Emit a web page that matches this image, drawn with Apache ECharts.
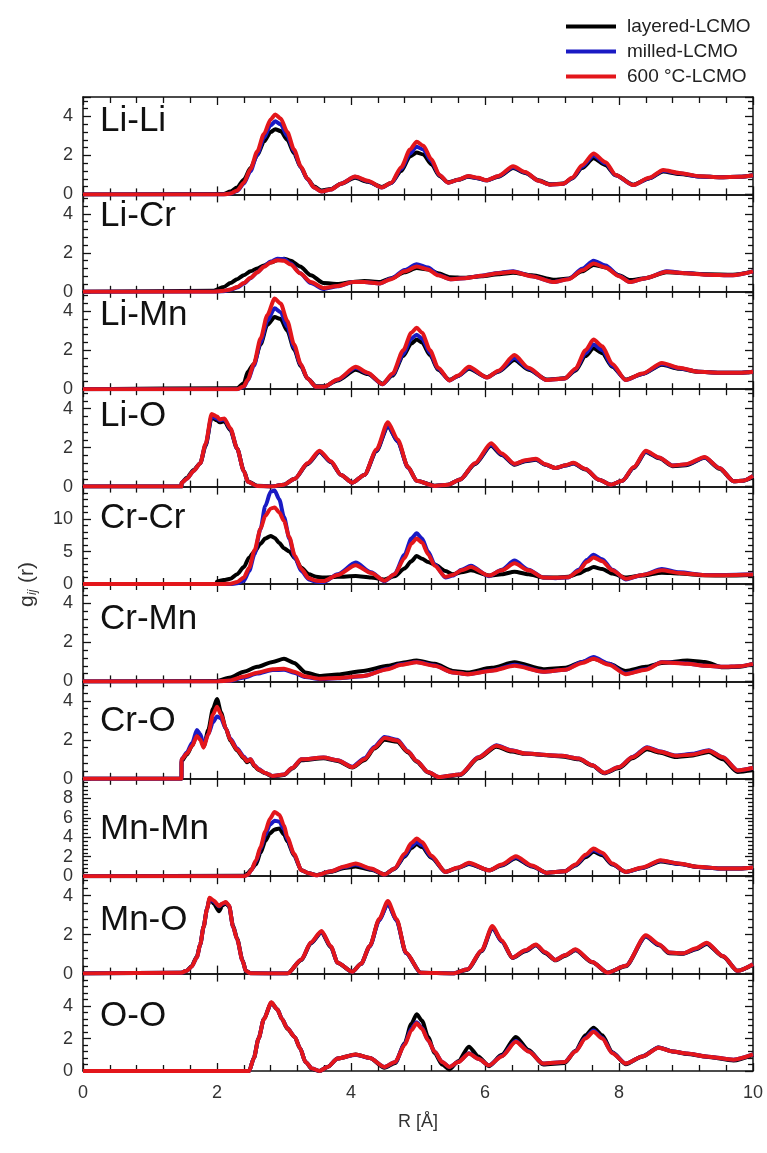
<!DOCTYPE html>
<html>
<head>
<meta charset="utf-8">
<script src="https://cdn.jsdelivr.net/npm/echarts@6/dist/echarts.min.js"></script>
<style>
html,body{margin:0;padding:0;background:#fff;}
#chart{width:767px;height:1153px;}
</style>
</head>
<body>
<div id="chart"></div>
<script>
// ---------------- DATA ----------------
const SERIES_NAMES = ['layered-LCMO', 'milled-LCMO', '600 °C-LCMO'];
const PANEL_NAMES = ['Li-Li', 'Li-Cr', 'Li-Mn', 'Li-O', 'Cr-Cr', 'Cr-Mn', 'Cr-O', 'Mn-Mn', 'Mn-O', 'O-O'];
const X_TICKS = [0, 2, 4, 6, 8, 10];

// Li-Li
const R_LiLi = [0, 2.1, 2.2, 2.3, 2.4, 2.5, 2.6, 2.7, 2.8, 2.87, 2.95, 3.05, 3.15, 3.25, 3.35, 3.45, 3.56, 3.7, 3.85, 4.06, 4.25, 4.46, 4.6, 4.75, 4.88, 4.98, 5.08, 5.2, 5.32, 5.45, 5.6, 5.75, 5.9, 6.02, 6.2, 6.42, 6.6, 6.8, 6.97, 7.17, 7.3, 7.45, 7.62, 7.8, 7.95, 8.21, 8.45, 8.66, 8.9, 9.21, 9.5, 9.8, 10];
const LiLi_layered = [0, 0.02, 0.15, 0.35, 0.75, 1.35, 2.0, 2.7, 3.2, 3.35, 3.25, 2.8, 2.1, 1.4, 0.8, 0.4, 0.2, 0.28, 0.55, 0.85, 0.65, 0.38, 0.58, 1.2, 1.95, 2.15, 2.05, 1.55, 0.95, 0.62, 0.75, 0.9, 0.82, 0.72, 0.9, 1.35, 1.1, 0.72, 0.52, 0.56, 0.82, 1.35, 1.85, 1.5, 0.98, 0.5, 0.82, 1.18, 1.05, 0.92, 0.88, 0.9, 0.98];
const LiLi_milled = [0, 0, 0.04, 0.18, 0.55, 1.2, 2.05, 2.9, 3.55, 3.75, 3.6, 3.0, 2.2, 1.4, 0.78, 0.35, 0.15, 0.25, 0.55, 0.9, 0.68, 0.35, 0.58, 1.3, 2.1, 2.45, 2.3, 1.7, 0.98, 0.6, 0.75, 0.93, 0.83, 0.72, 0.93, 1.4, 1.12, 0.7, 0.5, 0.55, 0.83, 1.42, 2.0, 1.58, 0.98, 0.48, 0.83, 1.22, 1.08, 0.92, 0.88, 0.9, 0.98];
const LiLi_600 = [0, 0, 0.05, 0.2, 0.6, 1.3, 2.2, 3.1, 3.85, 4.1, 3.9, 3.2, 2.3, 1.45, 0.8, 0.35, 0.15, 0.25, 0.55, 0.92, 0.7, 0.35, 0.6, 1.4, 2.3, 2.7, 2.5, 1.8, 1.0, 0.6, 0.75, 0.95, 0.85, 0.72, 0.95, 1.45, 1.15, 0.7, 0.5, 0.55, 0.85, 1.5, 2.1, 1.65, 1.0, 0.48, 0.85, 1.25, 1.1, 0.93, 0.88, 0.9, 0.98];

// Li-Cr
const R_LiCr = [0, 1.95, 2.1, 2.2, 2.3, 2.4, 2.5, 2.6, 2.7, 2.8, 2.9, 3.0, 3.1, 3.24, 3.4, 3.59, 3.8, 4.03, 4.2, 4.43, 4.6, 4.8, 4.98, 5.15, 5.3, 5.48, 5.7, 5.95, 6.2, 6.42, 6.7, 7.02, 7.25, 7.45, 7.62, 7.8, 8.0, 8.16, 8.4, 8.71, 9.0, 9.3, 9.7, 10];
const LiCr_layered = [0, 0.05, 0.25, 0.45, 0.65, 0.85, 1.05, 1.2, 1.35, 1.5, 1.62, 1.7, 1.6, 1.3, 0.85, 0.45, 0.4, 0.5, 0.55, 0.5, 0.7, 1.0, 1.22, 1.15, 0.95, 0.75, 0.72, 0.8, 0.9, 0.98, 0.85, 0.62, 0.68, 1.05, 1.38, 1.25, 0.85, 0.6, 0.7, 1.0, 0.95, 0.9, 0.88, 1.05];
const LiCr_milled = [0, 0, 0.03, 0.1, 0.22, 0.42, 0.7, 1.0, 1.3, 1.55, 1.7, 1.68, 1.45, 0.95, 0.45, 0.15, 0.28, 0.5, 0.5, 0.43, 0.68, 1.12, 1.42, 1.25, 0.88, 0.65, 0.7, 0.83, 0.97, 1.06, 0.8, 0.5, 0.66, 1.18, 1.6, 1.35, 0.82, 0.5, 0.7, 1.05, 0.96, 0.88, 0.85, 1.05];
const LiCr_600 = [0, 0, 0.05, 0.12, 0.25, 0.45, 0.72, 1.0, 1.28, 1.5, 1.62, 1.6, 1.4, 0.95, 0.5, 0.2, 0.3, 0.5, 0.5, 0.43, 0.65, 1.05, 1.3, 1.15, 0.85, 0.65, 0.7, 0.82, 0.95, 1.03, 0.8, 0.5, 0.65, 1.1, 1.45, 1.25, 0.8, 0.5, 0.7, 1.03, 0.95, 0.88, 0.85, 1.05];

// Li-Mn
const R_LiMn = [0, 2.3, 2.4, 2.46, 2.55, 2.65, 2.75, 2.86, 2.95, 3.05, 3.15, 3.25, 3.35, 3.48, 3.6, 3.8, 4.07, 4.25, 4.47, 4.62, 4.78, 4.9, 4.98, 5.06, 5.18, 5.3, 5.47, 5.6, 5.76, 6.03, 6.2, 6.44, 6.65, 6.92, 7.19, 7.35, 7.5, 7.62, 7.75, 7.9, 8.1, 8.35, 8.64, 8.9, 9.18, 9.5, 9.8, 10];
const LiMn_layered = [0, 0.05, 0.3, 0.9, 1.3, 2.3, 3.3, 3.7, 3.6, 3.0, 2.05, 1.2, 0.55, 0.15, 0.15, 0.45, 1.0, 0.78, 0.28, 0.7, 1.7, 2.35, 2.55, 2.4, 1.75, 1.0, 0.48, 0.68, 1.05, 0.62, 0.9, 1.5, 1.0, 0.5, 0.56, 0.95, 1.7, 2.1, 1.85, 1.15, 0.5, 0.78, 1.25, 1.05, 0.9, 0.85, 0.85, 0.9];
const LiMn_milled = [0, 0, 0.12, 0.45, 1.2, 2.4, 3.5, 4.15, 3.95, 3.2, 2.15, 1.25, 0.55, 0.12, 0.12, 0.48, 1.1, 0.82, 0.25, 0.75, 1.8, 2.6, 2.8, 2.6, 1.85, 1.05, 0.45, 0.68, 1.1, 0.6, 0.92, 1.6, 1.05, 0.47, 0.55, 1.0, 1.85, 2.3, 2.0, 1.2, 0.47, 0.78, 1.3, 1.08, 0.9, 0.85, 0.85, 0.9];
const LiMn_600 = [0, 0, 0.15, 0.5, 1.3, 2.6, 3.8, 4.65, 4.4, 3.5, 2.3, 1.3, 0.55, 0.12, 0.12, 0.5, 1.15, 0.85, 0.25, 0.8, 2.0, 2.9, 3.15, 2.9, 2.0, 1.1, 0.45, 0.7, 1.15, 0.6, 0.95, 1.75, 1.1, 0.47, 0.55, 1.05, 2.0, 2.55, 2.2, 1.3, 0.47, 0.8, 1.35, 1.1, 0.9, 0.85, 0.85, 0.9];

// Li-O
const R_LiO = [0, 1.47, 1.471, 1.55, 1.65, 1.75, 1.83, 1.92, 2.0, 2.04, 2.11, 2.2, 2.3, 2.4, 2.46, 2.6, 2.8, 3.0, 3.16, 3.35, 3.53, 3.7, 3.85, 4.02, 4.2, 4.38, 4.55, 4.7, 4.85, 4.98, 5.25, 5.45, 5.63, 5.85, 6.09, 6.25, 6.44, 6.6, 6.76, 6.9, 7.05, 7.2, 7.32, 7.5, 7.7, 7.88, 8.05, 8.22, 8.4, 8.6, 8.8, 9.0, 9.28, 9.5, 9.71, 9.85, 10];
const LiO_layered = [0, 0, 0.2, 0.45, 0.85, 1.2, 2.1, 3.55, 3.4, 3.3, 3.35, 2.9, 1.95, 0.82, 0.28, 0.05, 0, 0.1, 0.4, 1.15, 1.78, 1.25, 0.6, 0.2, 0.6, 1.82, 3.1, 2.3, 1.0, 0.3, 0.05, 0.1, 0.37, 1.15, 2.1, 1.62, 1.12, 1.3, 1.38, 1.12, 0.95, 1.08, 1.18, 0.88, 0.35, 0.1, 0.3, 0.95, 1.78, 1.45, 1.05, 1.1, 1.48, 0.92, 0.28, 0.3, 0.5];
const LiO_milled = [0, 0, 0.2, 0.4, 0.8, 1.2, 2.15, 3.6, 3.5, 3.4, 3.45, 2.95, 1.95, 0.8, 0.25, 0.03, 0, 0.1, 0.4, 1.18, 1.8, 1.28, 0.6, 0.2, 0.6, 1.85, 3.15, 2.3, 0.98, 0.3, 0.03, 0.1, 0.37, 1.18, 2.15, 1.65, 1.15, 1.33, 1.4, 1.13, 0.95, 1.08, 1.2, 0.9, 0.35, 0.1, 0.3, 0.98, 1.8, 1.48, 1.08, 1.13, 1.5, 0.95, 0.28, 0.3, 0.55];
const LiO_600 = [0, 0, 0.2, 0.4, 0.8, 1.2, 2.2, 3.73, 3.6, 3.45, 3.5, 3.0, 1.96, 0.8, 0.25, 0.03, 0, 0.1, 0.4, 1.2, 1.84, 1.3, 0.6, 0.2, 0.6, 1.9, 3.3, 2.4, 1.0, 0.3, 0.03, 0.1, 0.37, 1.2, 2.23, 1.7, 1.17, 1.35, 1.43, 1.15, 0.95, 1.1, 1.22, 0.9, 0.35, 0.1, 0.3, 1.0, 1.84, 1.5, 1.08, 1.15, 1.52, 0.95, 0.28, 0.3, 0.55];

// Cr-Cr
const R_CrCr = [0, 1.99, 2.0, 2.1, 2.2, 2.3, 2.4, 2.48, 2.56, 2.65, 2.72, 2.8, 2.86, 2.93, 3.0, 3.08, 3.16, 3.26, 3.37, 3.48, 3.59, 3.8, 4.07, 4.3, 4.5, 4.65, 4.8, 4.9, 4.98, 5.06, 5.15, 5.25, 5.41, 5.52, 5.65, 5.79, 6.06, 6.25, 6.44, 6.65, 6.87, 7.05, 7.24, 7.4, 7.52, 7.62, 7.75, 7.9, 8.1, 8.35, 8.64, 8.9, 9.28, 9.6, 10];
const CrCr_layered = [0, 0, 0.4, 0.6, 0.8, 1.5, 2.6, 4.1, 5.0, 6.2, 7.0, 7.4, 7.1, 6.3, 5.5, 5.0, 4.0, 2.5, 1.5, 1.1, 1.0, 1.1, 1.24, 1.0, 0.7, 1.2, 2.4, 3.5, 4.3, 3.9, 3.4, 3.0, 2.0, 1.5, 1.8, 2.1, 1.3, 1.5, 1.9, 1.5, 1.0, 1.0, 1.1, 1.6, 2.2, 2.6, 2.3, 1.6, 1.0, 1.3, 1.75, 1.6, 1.34, 1.3, 1.4];
const CrCr_milled = [0, 0, 0, 0, 0, 0.1, 0.5, 2.0, 4.6, 8.5, 12.0, 14.2, 14.4, 13.0, 10.3, 7.0, 4.1, 2.0, 0.7, 0.35, 0.3, 1.5, 3.3, 1.8, 0.4, 1.5, 4.5, 7.0, 7.8, 7.0, 5.0, 3.0, 1.0, 1.3, 2.2, 2.8, 1.2, 2.2, 3.6, 2.2, 1.0, 0.9, 1.0, 2.2, 3.7, 4.5, 3.8, 2.2, 0.7, 1.4, 2.3, 1.8, 1.4, 1.4, 1.5];
const CrCr_600 = [0, 0, 0, 0, 0.05, 0.3, 1.0, 2.5, 5.2, 8.5, 10.5, 11.6, 11.8, 11.0, 9.7, 7.2, 4.4, 2.3, 0.9, 0.5, 0.45, 1.4, 2.9, 1.7, 0.5, 1.5, 4.0, 6.2, 7.0, 6.4, 4.6, 2.8, 1.1, 1.4, 2.1, 2.6, 1.3, 2.1, 3.2, 2.1, 1.0, 0.95, 1.05, 2.0, 3.4, 4.1, 3.5, 2.1, 0.8, 1.4, 2.1, 1.7, 1.35, 1.35, 1.45];

// Cr-Mn
const R_CrMn = [0, 2.0, 2.2, 2.4, 2.6, 2.83, 3.0, 3.15, 3.32, 3.53, 3.8, 4.18, 4.55, 4.75, 4.98, 5.25, 5.52, 5.74, 6.1, 6.44, 6.87, 7.2, 7.45, 7.62, 7.85, 8.1, 8.4, 8.64, 9.02, 9.28, 9.55, 9.8, 10];
const CrMn_layered = [0, 0.02, 0.2, 0.5, 0.75, 1.0, 1.16, 0.95, 0.46, 0.28, 0.35, 0.54, 0.8, 0.95, 1.07, 0.9, 0.54, 0.46, 0.7, 0.98, 0.63, 0.7, 1.0, 1.16, 0.9, 0.54, 0.75, 0.95, 1.07, 1.0, 0.72, 0.75, 0.9];
const CrMn_milled = [0, 0, 0.03, 0.2, 0.4, 0.58, 0.6, 0.45, 0.22, 0.12, 0.16, 0.27, 0.65, 0.88, 1.0, 0.82, 0.46, 0.37, 0.56, 0.85, 0.5, 0.6, 1.0, 1.25, 0.9, 0.4, 0.62, 1.0, 0.92, 0.8, 0.75, 0.78, 0.9];
const CrMn_600 = [0, 0, 0.05, 0.25, 0.45, 0.63, 0.65, 0.5, 0.25, 0.14, 0.18, 0.28, 0.63, 0.85, 0.98, 0.8, 0.46, 0.37, 0.55, 0.8, 0.5, 0.6, 0.95, 1.16, 0.85, 0.37, 0.6, 0.98, 0.9, 0.8, 0.75, 0.78, 0.9];

// Cr-O
const R_CrO = [0, 1.47, 1.471, 1.55, 1.63, 1.7, 1.75, 1.8, 1.87, 1.94, 2.0, 2.06, 2.13, 2.2, 2.3, 2.4, 2.45, 2.5, 2.56, 2.62, 2.72, 2.83, 3.0, 3.12, 3.26, 3.59, 3.8, 4.02, 4.2, 4.35, 4.5, 4.69, 4.85, 4.98, 5.15, 5.31, 5.63, 5.9, 6.17, 6.4, 6.6, 7.14, 7.4, 7.6, 7.78, 8.0, 8.2, 8.42, 8.6, 8.85, 9.1, 9.34, 9.55, 9.77, 10];
const CrO_layered = [0, 0, 0.9, 1.25, 1.7, 2.3, 2.1, 1.65, 2.5, 3.6, 4.1, 3.4, 2.6, 1.95, 1.45, 1.05, 0.85, 0.95, 0.65, 0.45, 0.28, 0.12, 0.2, 0.52, 0.95, 1.05, 0.92, 0.58, 0.95, 1.55, 2.0, 1.9, 1.35, 0.88, 0.32, 0.07, 0.2, 1.05, 1.65, 1.4, 1.28, 1.15, 1.0, 0.68, 0.28, 0.55, 1.05, 1.52, 1.35, 1.12, 1.2, 1.38, 1.0, 0.35, 0.45];
const CrO_milled = [0, 0, 1.0, 1.35, 1.85, 2.5, 2.3, 1.75, 2.3, 2.9, 3.2, 3.1, 2.6, 2.05, 1.55, 1.15, 0.95, 1.0, 0.7, 0.5, 0.3, 0.14, 0.22, 0.55, 1.0, 1.09, 0.95, 0.62, 1.05, 1.65, 2.15, 2.0, 1.42, 0.92, 0.35, 0.09, 0.22, 1.1, 1.72, 1.47, 1.3, 1.18, 1.04, 0.7, 0.3, 0.6, 1.12, 1.62, 1.42, 1.2, 1.28, 1.47, 1.1, 0.43, 0.57];
const CrO_600 = [0, 0, 1.0, 1.3, 1.7, 2.2, 2.0, 1.6, 2.3, 3.3, 3.7, 3.3, 2.6, 2.0, 1.5, 1.1, 0.9, 1.0, 0.68, 0.48, 0.3, 0.14, 0.22, 0.55, 1.0, 1.09, 0.95, 0.6, 1.0, 1.6, 2.1, 1.96, 1.4, 0.92, 0.35, 0.09, 0.22, 1.09, 1.7, 1.45, 1.3, 1.18, 1.04, 0.7, 0.31, 0.6, 1.1, 1.6, 1.4, 1.18, 1.25, 1.44, 1.1, 0.43, 0.57];

// Mn-Mn
const R_MnMn = [0, 2.4, 2.46, 2.51, 2.58, 2.65, 2.72, 2.79, 2.86, 2.93, 3.0, 3.05, 3.15, 3.26, 3.37, 3.48, 3.7, 3.9, 4.07, 4.3, 4.5, 4.65, 4.8, 4.9, 4.98, 5.06, 5.2, 5.41, 5.6, 5.76, 6.06, 6.25, 6.46, 6.7, 6.92, 7.19, 7.35, 7.5, 7.62, 7.75, 7.9, 8.1, 8.35, 8.62, 8.9, 9.18, 9.5, 9.8, 10];
const MnMn_layered = [0, 0.05, 0.3, 0.7, 1.2, 2.4, 3.6, 4.4, 4.8, 4.9, 4.3, 3.6, 2.1, 0.6, 0.3, 0.12, 0.45, 0.85, 1.0, 0.65, 0.2, 0.75, 2.0, 2.9, 3.3, 3.0, 1.9, 0.45, 0.85, 1.25, 0.6, 1.1, 1.85, 1.0, 0.36, 0.5, 1.1, 1.95, 2.5, 2.15, 1.2, 0.45, 0.85, 1.5, 1.25, 0.95, 0.8, 0.8, 0.9];
const MnMn_milled = [0, 0, 0.15, 0.6, 1.5, 2.8, 4.2, 5.3, 5.7, 5.6, 4.8, 3.8, 2.2, 0.6, 0.3, 0.1, 0.5, 0.95, 1.2, 0.75, 0.17, 0.78, 2.1, 3.1, 3.5, 3.2, 2.0, 0.44, 0.88, 1.3, 0.6, 1.15, 1.95, 1.05, 0.34, 0.5, 1.15, 2.1, 2.7, 2.3, 1.25, 0.44, 0.88, 1.58, 1.28, 0.95, 0.8, 0.8, 0.9];
const MnMn_600 = [0, 0, 0.15, 0.6, 1.6, 3.0, 4.6, 5.9, 6.6, 6.3, 5.2, 4.0, 2.3, 0.6, 0.3, 0.1, 0.5, 1.0, 1.3, 0.8, 0.17, 0.8, 2.3, 3.4, 3.86, 3.5, 2.1, 0.44, 0.9, 1.37, 0.6, 1.2, 2.05, 1.1, 0.34, 0.5, 1.2, 2.2, 2.84, 2.4, 1.3, 0.44, 0.9, 1.64, 1.3, 0.96, 0.8, 0.8, 0.9];

// Mn-O
const R_MnO = [0, 1.47, 1.55, 1.62, 1.7, 1.75, 1.8, 1.85, 1.89, 1.95, 2.03, 2.08, 2.13, 2.18, 2.24, 2.3, 2.38, 2.43, 2.5, 3.05, 3.26, 3.4, 3.56, 3.7, 3.8, 4.02, 4.15, 4.28, 4.42, 4.55, 4.68, 4.82, 5.04, 5.52, 5.74, 5.95, 6.11, 6.25, 6.41, 6.6, 6.76, 6.9, 7.05, 7.2, 7.35, 7.6, 7.83, 8.1, 8.4, 8.6, 8.75, 8.96, 9.15, 9.31, 9.55, 9.77, 10];
const MnO_layered = [0, 0.05, 0.15, 0.38, 0.88, 1.5, 2.4, 3.3, 3.85, 3.6, 3.2, 3.5, 3.6, 3.45, 2.45, 1.8, 0.7, 0.15, 0.02, 0, 0.7, 1.55, 2.12, 1.35, 0.55, 0.09, 0.5, 1.4, 2.75, 3.6, 2.75, 1.06, 0.05, 0, 0.2, 1.15, 2.35, 1.65, 0.8, 1.15, 1.45, 1.05, 0.68, 0.92, 1.2, 0.58, 0.05, 0.38, 1.9, 1.45, 1.05, 1.02, 1.25, 1.52, 0.88, 0.14, 0.45];
const MnO_milled = [0, 0.05, 0.15, 0.35, 0.84, 1.5, 2.4, 3.3, 3.85, 3.7, 3.45, 3.58, 3.65, 3.48, 2.4, 1.76, 0.67, 0.14, 0.02, 0, 0.72, 1.58, 2.15, 1.38, 0.56, 0.09, 0.5, 1.4, 2.72, 3.6, 2.72, 1.06, 0.05, 0, 0.22, 1.18, 2.38, 1.66, 0.82, 1.18, 1.47, 1.08, 0.7, 0.95, 1.22, 0.6, 0.05, 0.4, 1.93, 1.48, 1.08, 1.04, 1.28, 1.56, 0.9, 0.14, 0.48];
const MnO_600 = [0, 0.05, 0.15, 0.35, 0.84, 1.5, 2.4, 3.3, 3.9, 3.75, 3.47, 3.6, 3.67, 3.5, 2.4, 1.76, 0.67, 0.14, 0.02, 0, 0.73, 1.6, 2.19, 1.4, 0.56, 0.09, 0.5, 1.42, 2.8, 3.73, 2.8, 1.08, 0.05, 0, 0.22, 1.2, 2.44, 1.7, 0.82, 1.2, 1.5, 1.1, 0.7, 0.95, 1.25, 0.6, 0.05, 0.4, 1.97, 1.5, 1.08, 1.04, 1.3, 1.59, 0.9, 0.14, 0.48];

// O-O
const R_OO = [0, 2.48, 2.55, 2.62, 2.7, 2.81, 2.9, 2.97, 3.05, 3.16, 3.24, 3.32, 3.42, 3.53, 3.65, 3.8, 4.07, 4.28, 4.5, 4.66, 4.8, 4.9, 4.98, 5.06, 5.15, 5.25, 5.36, 5.47, 5.6, 5.76, 5.9, 6.06, 6.25, 6.46, 6.65, 6.87, 7.19, 7.35, 7.5, 7.62, 7.75, 7.9, 8.1, 8.35, 8.59, 8.8, 9.02, 9.3, 9.71, 10];
const OO_layered = [0, 0, 0.8, 2.0, 3.2, 4.2, 3.8, 3.2, 2.6, 2.1, 1.4, 0.56, 0.12, 0, 0.25, 0.77, 1.02, 0.8, 0.2, 0.5, 1.7, 2.9, 3.5, 3.1, 2.1, 1.1, 0.4, 0.1, 0.6, 1.5, 0.9, 0.3, 1.0, 2.1, 1.3, 0.4, 0.5, 1.25, 2.2, 2.67, 2.2, 1.15, 0.42, 0.9, 1.45, 1.2, 1.05, 0.88, 0.65, 1.0];
const OO_milled = [0, 0, 0.8, 2.0, 3.2, 4.2, 3.8, 3.2, 2.65, 2.1, 1.4, 0.56, 0.15, 0, 0.25, 0.77, 1.0, 0.8, 0.25, 0.55, 1.65, 2.6, 3.0, 2.65, 1.9, 1.18, 0.55, 0.25, 0.55, 1.1, 0.75, 0.35, 0.92, 1.85, 1.22, 0.46, 0.56, 1.22, 2.05, 2.5, 2.05, 1.12, 0.46, 0.9, 1.45, 1.2, 1.08, 0.9, 0.7, 1.02];
const OO_600 = [0, 0, 0.8, 2.0, 3.2, 4.23, 3.8, 3.2, 2.63, 2.1, 1.4, 0.56, 0.15, 0, 0.25, 0.77, 1.02, 0.8, 0.25, 0.56, 1.6, 2.5, 2.94, 2.6, 1.9, 1.18, 0.55, 0.25, 0.55, 1.08, 0.75, 0.35, 0.9, 1.8, 1.2, 0.46, 0.56, 1.2, 2.0, 2.42, 2.0, 1.1, 0.46, 0.9, 1.43, 1.2, 1.08, 0.9, 0.7, 1.02];

// y-axis ranges per panel
const Y_MAX = [5, 5, 5, 5, 15, 5, 5, 10, 5, 6];
const Y_STEP = [2, 2, 2, 2, 5, 2, 2, 2, 2, 2];

// ---------------- LAYOUT / STYLE ----------------
const FONT = '"Liberation Sans", Arial, Helvetica, sans-serif';
const COLORS = ['#000000', '#1a1ac4', '#e3161b'];
const PLOT_LEFT = 83, PLOT_WIDTH = 670, PLOT_TOP = 97, PANEL_H = 97.4;
const LABEL_Y = [124, 219, 318, 419, 521, 622, 724, 832, 923, 1019];

const PANEL_DATA = [
  [R_LiLi, LiLi_layered, LiLi_milled, LiLi_600],
  [R_LiCr, LiCr_layered, LiCr_milled, LiCr_600],
  [R_LiMn, LiMn_layered, LiMn_milled, LiMn_600],
  [R_LiO, LiO_layered, LiO_milled, LiO_600],
  [R_CrCr, CrCr_layered, CrCr_milled, CrCr_600],
  [R_CrMn, CrMn_layered, CrMn_milled, CrMn_600],
  [R_CrO, CrO_layered, CrO_milled, CrO_600],
  [R_MnMn, MnMn_layered, MnMn_milled, MnMn_600],
  [R_MnO, MnO_layered, MnO_milled, MnO_600],
  [R_OO, OO_layered, OO_milled, OO_600]
];

function pairs(R, Y) {
  const n = Math.min(R.length, Y.length);
  const out = [];
  for (let i = 0; i < n; i++) out.push([R[i], Y[i]]);
  return out;
}

const AX = { color: '#111', width: 1.5 };
const grids = [], xAxes = [], yAxes = [], series = [], graphics = [];
const NP = PANEL_NAMES.length;

for (let p = 0; p < NP; p++) {
  grids.push({ left: PLOT_LEFT, width: PLOT_WIDTH, top: PLOT_TOP + p * PANEL_H, height: PANEL_H, containLabel: false });
  const last = p === NP - 1;
  const xBase = {
    gridIndex: p, type: 'value', min: X_TICKS[0], max: X_TICKS[X_TICKS.length - 1], interval: X_TICKS[1] - X_TICKS[0],
    axisLine: { show: true, onZero: false, lineStyle: AX },
    axisTick: { show: true, inside: true, length: 8, lineStyle: { color: '#111', width: 1.3 } },
    minorTick: { show: true, splitNumber: 5, length: 6, lineStyle: { color: '#111', width: 1.3 } },
    splitLine: { show: false }, minorSplitLine: { show: false }
  };
  xAxes.push(Object.assign({}, xBase, {
    position: 'bottom',
    axisLabel: { show: last, fontSize: 18, color: '#333', fontFamily: FONT, margin: 13 },
    name: last ? 'R [Å]' : '', nameLocation: 'middle', nameGap: 42,
    nameTextStyle: { fontSize: 18, color: '#333', fontFamily: FONT }
  }));
  xAxes.push(Object.assign({}, xBase, { position: 'top', axisLabel: { show: false } }));

  const yBase = {
    gridIndex: p, type: 'value', min: 0, max: Y_MAX[p], interval: Y_STEP[p],
    axisLine: { show: true, onZero: false, lineStyle: AX },
    axisTick: { show: true, inside: true, length: 8, lineStyle: { color: '#111', width: 1.3 } },
    minorTick: { show: true, splitNumber: 5, length: 5, lineStyle: { color: '#111', width: 1.3 } },
    splitLine: { show: false }, minorSplitLine: { show: false }
  };
  yAxes.push(Object.assign({}, yBase, {
    position: 'left',
    axisLabel: { show: true, showMaxLabel: false, fontSize: 18, color: '#333', fontFamily: FONT, margin: 10,
      formatter: function (v) { return (v % Y_STEP[p] === 0 && v < Y_MAX[p]) ? String(v) : ''; } }
  }));
  yAxes.push(Object.assign({}, yBase, { position: 'right', axisLabel: { show: false } }));

  const d = PANEL_DATA[p];
  for (let s = 0; s < 3; s++) {
    series.push({
      type: 'line', name: SERIES_NAMES[s], xAxisIndex: 2 * p, yAxisIndex: 2 * p,
      data: pairs(d[0], d[s + 1]), showSymbol: false, symbol: 'none',
      smooth: 0.25, smoothMonotone: 'x', silent: true, animation: false,
      lineStyle: { color: COLORS[s], width: 4 }, itemStyle: { color: COLORS[s] },
      z: 2 + s
    });
  }

  graphics.push({
    type: 'text', left: 100, top: LABEL_Y[p] - 20, z: 10,
    style: { text: PANEL_NAMES[p], fontSize: 35, fontFamily: FONT, fill: '#111' }
  });
}

// y-axis title g_ij (r), rotated
graphics.push({
  type: 'group', x: 27, y: 607, rotation: Math.PI / 2, z: 10,
  children: [
    { type: 'text', x: 0, y: 0, style: { text: 'g', fontSize: 21, fontFamily: FONT, fill: '#333', verticalAlign: 'middle' } },
    { type: 'text', x: 12, y: 6, style: { text: 'ij', fontSize: 12, fontStyle: 'italic', fontFamily: FONT, fill: '#333', verticalAlign: 'middle' } },
    { type: 'text', x: 24, y: 0, style: { text: '(r)', fontSize: 21, fontFamily: FONT, fill: '#333', verticalAlign: 'middle' } }
  ]
});

const chart = echarts.init(document.getElementById('chart'), null, { renderer: 'canvas' });
chart.setOption({
  backgroundColor: '#ffffff',
  animation: false,
  grid: grids,
  xAxis: xAxes,
  yAxis: yAxes,
  legend: {
    data: SERIES_NAMES, orient: 'vertical', left: 561, top: 12, itemGap: 6,
    icon: 'rect', itemWidth: 50, itemHeight: 4,
    textStyle: { fontSize: 19, color: '#222', fontFamily: FONT, padding: [0, 0, 0, 6] },
    selectedMode: false
  },
  graphic: graphics,
  series: series
});
</script>
</body>
</html>
